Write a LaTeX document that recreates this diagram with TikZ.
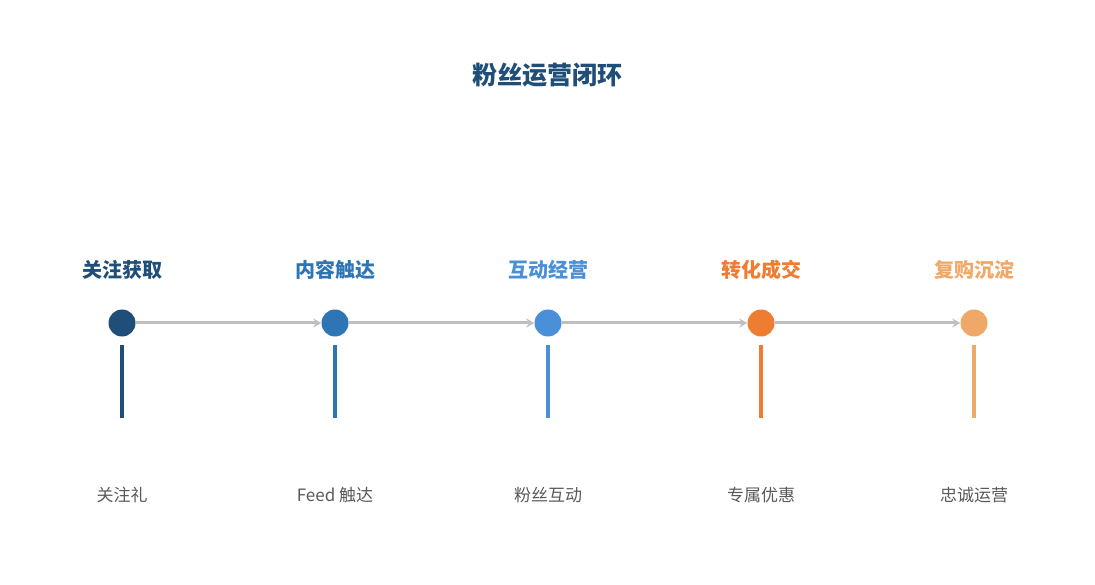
\documentclass[tikz,border=0pt]{standalone}
\usepackage{fontspec}
\setmainfont{Noto Sans CJK SC}
\usetikzlibrary{arrows.meta}
\definecolor{cA}{HTML}{1F4E79}
\definecolor{cB}{HTML}{2E75B6}
\definecolor{cC}{HTML}{4A90D9}
\definecolor{cD}{HTML}{ED7D31}
\definecolor{cE}{HTML}{F0A868}
\definecolor{link}{HTML}{BFBFBF}
\definecolor{note}{HTML}{595959}
\tikzset{
  stage/.style={circle,fill=#1,minimum size=27pt,inner sep=0pt},
  head/.style={text=#1,font=\fontsize{20}{24}\selectfont\bfseries},
  tick/.style={draw=#1,line width=3.5pt},
  note/.style={text=note,font=\fontsize{17}{20}\selectfont},
  flow/.style={draw=link,line width=3pt,-{Stealth[length=8pt,width=9pt]}}
}
\begin{document}
\begin{tikzpicture}[x=1pt,y=-1pt]
  \useasboundingbox (0,0) rectangle (1095,585);
  \node[text=cA,font=\fontsize{25}{30}\selectfont\bfseries] (title) at (547,75) {粉丝运营闭环};

  \foreach \n/\x/\c/\h/\t in {s1/122/cA/关注获取/关注礼, s2/335/cB/内容触达/Feed 触达,
      s3/548/cC/互动经营/粉丝互动, s4/761/cD/转化成交/专属优惠, s5/974/cE/复购沉淀/忠诚运营}{
    \node[stage=\c] (\n) at (\x,323) {};
    \node[head=\c] (\n h) at (\x,270) {\h};
    \coordinate (\n a) at (\x,345);
    \coordinate (\n b) at (\x,418);
    \draw[tick=\c] (\n a) -- (\n b);
    \node[note] (\n t) at (\x,495) {\t};
  }

  \foreach \a/\b in {s1/s2,s2/s3,s3/s4,s4/s5}
    \draw[flow] (\a) -- (\b);
\end{tikzpicture}
\end{document}
